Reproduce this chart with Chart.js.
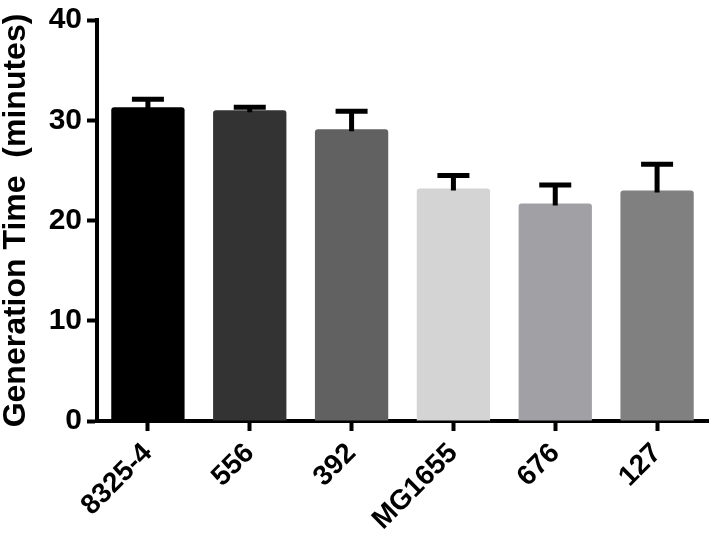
<!DOCTYPE html>
<html>
<head>
<meta charset="utf-8">
<script src="https://cdn.jsdelivr.net/npm/chart.js@4"></script>
<style>
  html, body { margin: 0; padding: 0; background: #fff; }
  #wrap { width: 709px; height: 550px; }
</style>
</head>
<body>
<div id="wrap"><canvas id="genChart" width="709" height="550"></canvas></div>
<script>
// Data
const strains = ["8325-4", "556", "392", "MG1655", "676", "127"];
const genTime = [31.3, 31.0, 29.1, 23.2, 21.7, 23.0];
const genErr = [0.8, 0.3, 1.8, 1.3, 1.85, 2.6];
const barColors = ["#000000", "#333333", "#616161", "#d4d4d4", "#a1a1a5", "#808080"];
const yTicks = [0, 10, 20, 30, 40];

const fontFamily = "'Liberation Sans', Arial, Helvetica, sans-serif";

// upper error bars only
const errorBars = {
  id: "errorBars",
  afterDatasetsDraw(chart) {
    const ctx = chart.ctx;
    const yScale = chart.scales.y;
    const meta = chart.getDatasetMeta(0);
    ctx.save();
    ctx.strokeStyle = "#000";
    ctx.lineWidth = 5;
    meta.data.forEach((bar, i) => {
      const x = bar.x;
      const yBase = yScale.getPixelForValue(genTime[i]);
      const yTop = yScale.getPixelForValue(genTime[i] + genErr[i]);
      ctx.beginPath();
      ctx.moveTo(x, yBase + 2);
      ctx.lineTo(x, yTop);
      ctx.moveTo(x - 16, yTop);
      ctx.lineTo(x + 16, yTop);
      ctx.stroke();
    });
    ctx.restore();
  },
};

const ctx = document.getElementById("genChart").getContext("2d");
new Chart(ctx, {
  type: "bar",
  data: {
    labels: strains,
    datasets: [
      {
        data: genTime,
        backgroundColor: barColors,
        borderWidth: 0,
        borderRadius: { topLeft: 3, topRight: 3 },
        borderSkipped: "bottom",
        barPercentage: 0.72,
        categoryPercentage: 1,
      },
    ],
  },
  options: {
    responsive: false,
    animation: false,
    layout: { padding: { top: 16, right: 1, left: 0, bottom: 0 } },
    plugins: {
      legend: { display: false },
      tooltip: { enabled: false },
    },
    scales: {
      x: {
        offset: true,
        afterFit: (scale) => { scale.height = 129; },
        grid: {
          offset: false,
          drawOnChartArea: false,
          drawTicks: true,
          tickLength: 10,
          tickWidth: 4,
          tickColor: "#000",
        },
        border: { color: "#000", width: 4 },
        ticks: {
          color: "#000",
          minRotation: 45,
          maxRotation: 45,
          padding: 6,
          font: { family: fontFamily, size: 28, weight: "bold" },
        },
      },
      y: {
        min: 0,
        max: 40,
        afterFit: (scale) => { scale.width = 97; },
        afterBuildTicks: (scale) => {
          scale.ticks = yTicks.map((v) => ({ value: v }));
        },
        grid: {
          drawOnChartArea: false,
          drawTicks: true,
          tickLength: 10,
          tickWidth: 4,
          tickColor: "#000",
        },
        border: { color: "#000", width: 4 },
        ticks: {
          color: "#000",
          padding: 5,
          font: { family: fontFamily, size: 30, weight: "bold", lineHeight: 1 },
        },
        title: {
          display: true,
          text: "Generation Time  (minutes)",
          color: "#000",
          padding: { top: 0, bottom: 0 },
          font: { family: fontFamily, size: 32, weight: "bold", lineHeight: 1 },
        },
      },
    },
  },
  plugins: [errorBars],
});
</script>
</body>
</html>
